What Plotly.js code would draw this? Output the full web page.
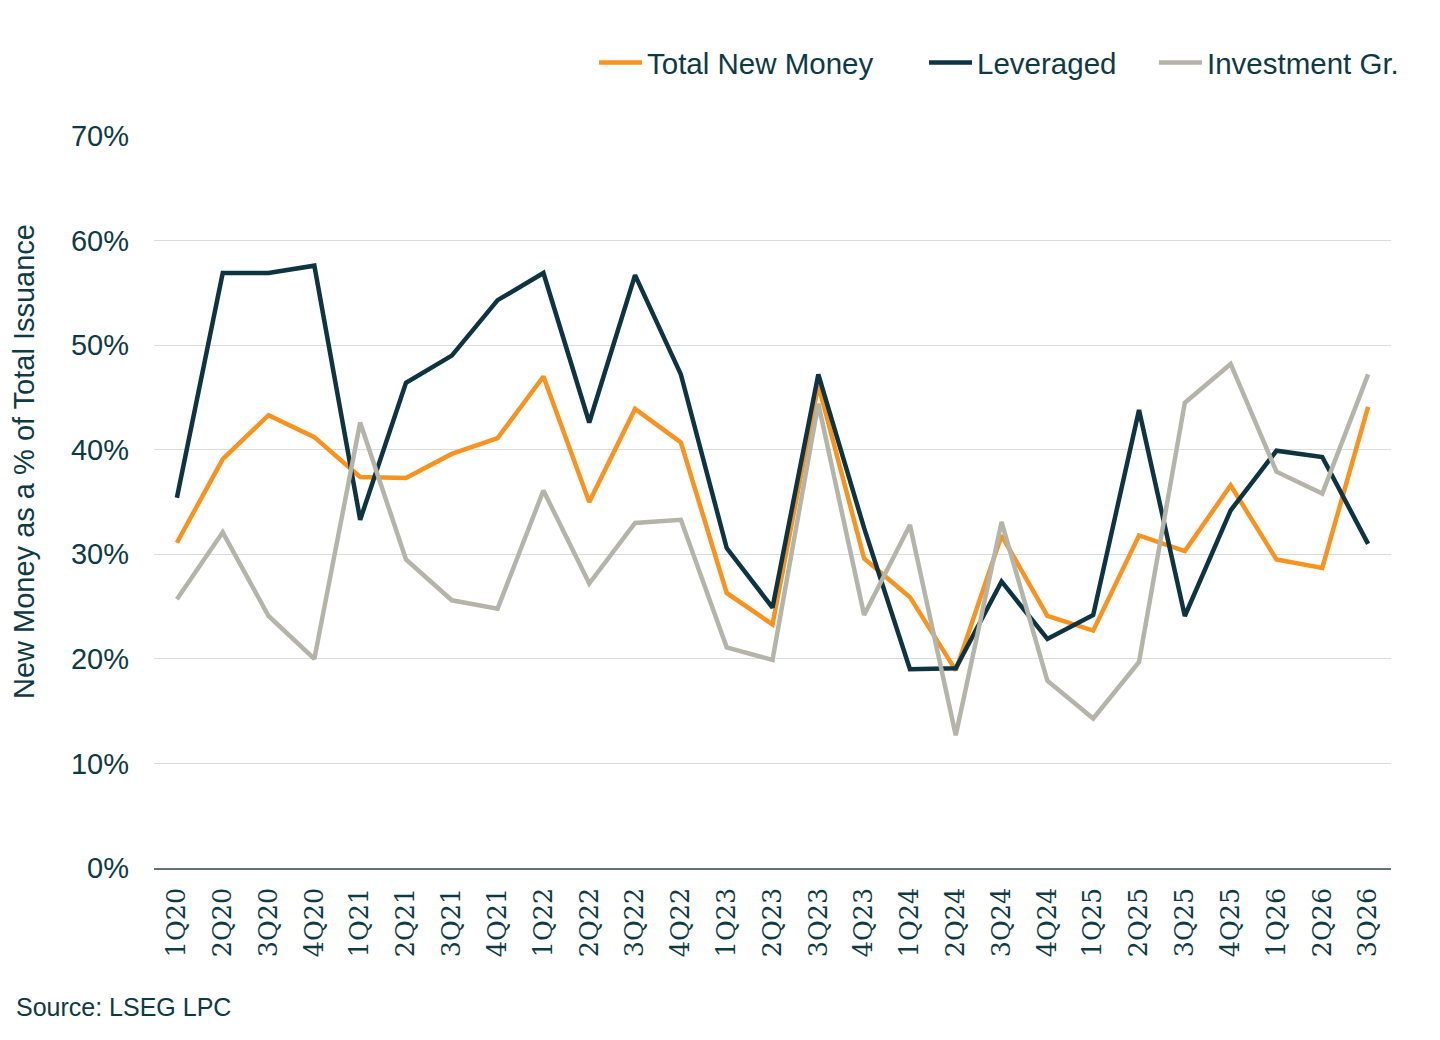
<!DOCTYPE html>
<html>
<head>
<meta charset="utf-8">
<script src="https://cdn.plot.ly/plotly-3.0.1.min.js"></script>
<style>
  html, body { margin: 0; padding: 0; background: #fff; }
  #chart { width: 1440px; height: 1040px; }
</style>
</head>
<body>
<div id="chart"></div>
<script>
var quarters = ['1Q20','2Q20','3Q20','4Q20','1Q21','2Q21','3Q21','4Q21','1Q22','2Q22','3Q22','4Q22',
  '1Q23','2Q23','3Q23','4Q23','1Q24','2Q24','3Q24','4Q24','1Q25','2Q25','3Q25','4Q25','1Q26','2Q26','3Q26'];

var totalNewMoney = [31.1, 39.1, 43.3, 41.2, 37.4, 37.3, 39.6, 41.1, 47.0, 35.0, 43.9, 40.7,
  26.3, 23.3, 46.2, 29.6, 25.9, 18.9, 31.8, 24.1, 22.7, 31.8, 30.3, 36.6, 29.5, 28.7, 44.1];

var leveraged = [35.4, 56.9, 56.9, 57.6, 33.3, 46.4, 49.0, 54.3, 56.9, 42.6, 56.7, 47.2,
  30.6, 24.9, 47.2, 32.5, 19.0, 19.1, 27.4, 21.9, 24.2, 43.8, 24.1, 34.2, 39.9, 39.3, 31.0];

var investmentGr = [25.7, 32.1, 24.1, 20.0, 42.6, 29.5, 25.6, 24.8, 36.1, 27.2, 33.0, 33.3,
  21.1, 19.9, 44.4, 24.2, 32.8, 12.7, 33.1, 17.9, 14.3, 19.7, 44.5, 48.2, 37.9, 35.8, 47.2];

var textColor = '#0e3a44';

function line(name, values, color, legendId) {
  return {
    type: 'scatter',
    mode: 'lines',
    name: name,
    legend: legendId,
    x: quarters,
    y: values,
    line: { color: color, width: 4.5 },
    hoverinfo: 'x+y+name'
  };
}

var data = [
  line('Total New Money', totalNewMoney, '#f7931e', 'legend'),
  line('Leveraged', leveraged, '#0d3440', 'legend2'),
  line('Investment Gr.', investmentGr, '#b4b4a8', 'legend3')
];

// one legend box per series so the gaps match the original
function legendAt(x) {
  return {
    orientation: 'h',
    x: x, xanchor: 'left',
    y: 1.1, yanchor: 'middle',
    itemwidth: 43,
    font: { size: 29.5, color: textColor },
    bgcolor: 'rgba(0,0,0,0)'
  };
}

var layout = {
  width: 1440,
  height: 1040,
  paper_bgcolor: '#fff',
  plot_bgcolor: '#fff',
  margin: { l: 154, r: 49, t: 136, b: 172 },
  font: { family: 'Liberation Sans, Arial, sans-serif', color: textColor },
  showlegend: true,
  legend: legendAt(0.3557),
  legend2: legendAt(0.6225),
  legend3: legendAt(0.8084),
  xaxis: {
    type: 'category',
    range: [-0.5, 26.5],
    tickangle: -90,
    tickfont: { family: 'DejaVu Serif, Liberation Serif, serif', size: 25.5, color: textColor },
    ticklabelstandoff: 8,
    showgrid: false,
    showline: true,
    linecolor: '#5f7378',
    linewidth: 1.5,
    ticks: '',
    fixedrange: true
  },
  yaxis: {
    range: [0, 70],
    dtick: 10,
    ticksuffix: '%',
    tickfont: { size: 29, color: textColor },
    ticklabelstandoff: 24,
    showgrid: true,
    gridcolor: '#d9dddd',
    gridwidth: 1.2,
    zeroline: false,
    showline: false,
    ticks: '',
    fixedrange: true
  },
  annotations: [{
    text: 'New Money as a % of Total Issuance',
    xref: 'paper', yref: 'paper',
    x: -0.1051, y: 0.556,
    xanchor: 'center', yanchor: 'middle',
    textangle: -90,
    showarrow: false,
    font: { size: 29, color: textColor }
  }, {
    text: 'Source: LSEG LPC',
    xref: 'paper', yref: 'paper',
    x: -0.1132, y: -0.19,
    xanchor: 'left', yanchor: 'middle',
    showarrow: false,
    font: { size: 25, color: textColor }
  }]
};

Plotly.newPlot('chart', data, layout, { displayModeBar: false, staticPlot: true });
</script>
</body>
</html>
